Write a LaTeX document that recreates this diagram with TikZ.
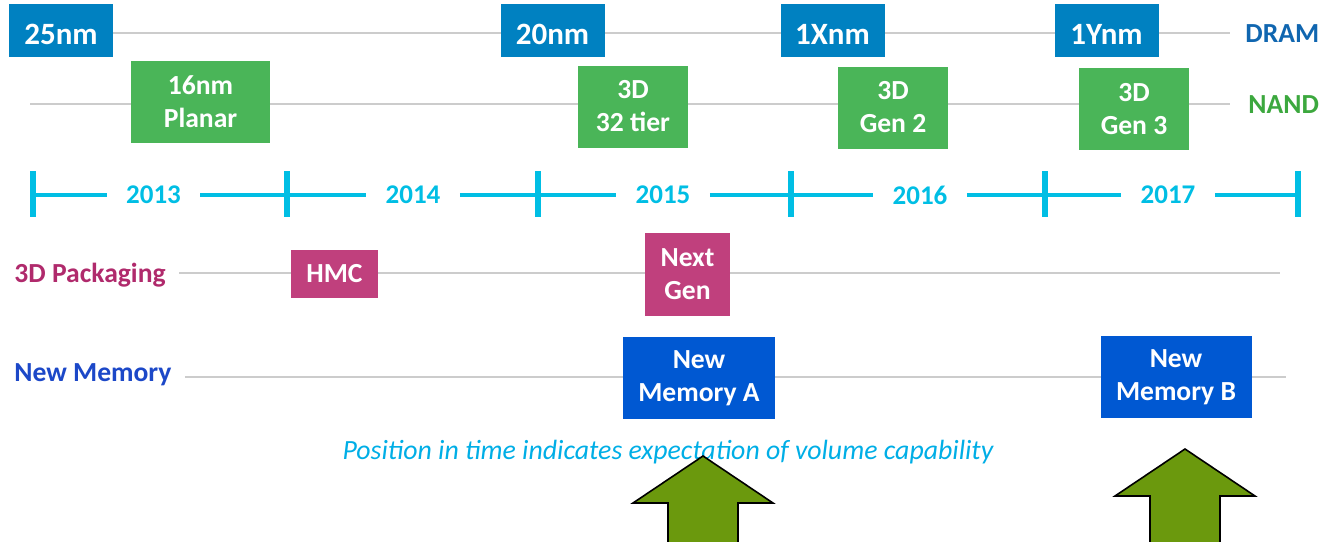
\documentclass[tikz,border=0pt]{standalone}
\usepackage{fontspec}
\setmainfont{Carlito}
\usetikzlibrary{positioning}

\definecolor{dramblue}{RGB}{0,129,193}
\definecolor{dramtext}{RGB}{16,102,176}
\definecolor{nandgreen}{RGB}{74,181,88}
\definecolor{nandtext}{RGB}{60,168,62}
\definecolor{pkgpink}{RGB}{192,64,125}
\definecolor{pkgtext}{RGB}{176,42,108}
\definecolor{memblue}{RGB}{0,88,210}
\definecolor{memtext}{RGB}{28,72,200}
\definecolor{yearcyan}{RGB}{0,190,228}
\definecolor{notecyan}{RGB}{0,174,230}
\definecolor{arrowgreen}{RGB}{107,153,13}
\definecolor{rowgray}{RGB}{204,204,204}

\begin{document}
\begin{tikzpicture}[x=0.5pt, y=-0.5pt]
	\tikzstyle{box} = [text=white, inner sep=0pt, align=center,
		font=\fontsize{13.8}{16.5}\selectfont\bfseries]
	\tikzstyle{dramfmt} = [box, fill=dramblue, minimum width=52pt,
		minimum height=26.5pt, text height=13.6pt, text depth=0pt,
		font=\fontsize{15.5}{18}\selectfont\bfseries]
	\tikzstyle{nandfmt} = [box, fill=nandgreen, minimum width=55pt,
		minimum height=41pt]
	\tikzstyle{pkgfmt} = [box, fill=pkgpink]
	\tikzstyle{memfmt} = [box, fill=memblue, minimum width=75.5pt,
		minimum height=41pt]
	\tikzstyle{rowlabel} = [anchor=west, inner sep=0pt,
		font=\fontsize{13.8}{16.5}\selectfont\bfseries]
	\tikzstyle{rowline} = [rowgray, line width=1pt]
	\tikzstyle{year} = [text=yearcyan, inner xsep=9.5pt, inner ysep=2pt,
		font=\fontsize{13.5}{16}\selectfont\bfseries]
	\tikzstyle{tline} = [yearcyan, line width=2pt]
	\tikzstyle{tick} = [yearcyan, line width=3pt]
	\tikzstyle{bigarrow} = [fill=arrowgreen, draw=black, line width=0.8pt,
		line join=miter]

	\useasboundingbox (0,0) rectangle (1326,541);
	\clip (0,0) rectangle (1326,541);

	% row labels and line ends
	\node[rowlabel, text=dramtext] (dram) at (1245,34) {DRAM};
	\node[rowlabel, text=nandtext] (nand) at (1248,105) {NAND};
	\node[rowlabel, text=pkgtext] (pkg) at (14,275) {3D Packaging};
	\node[rowlabel, text=memtext] (mem) at (14,375) {New Memory};
	\coordinate (dramstart) at (60,33);
	\coordinate (nandstart) at (30,104);
	\coordinate (pkgend) at (1280,273);
	\coordinate (memend) at (1286,377);

	% gray rows, drawn before the boxes so they sit underneath
	\draw[rowline, shorten >=7.5pt] (dramstart) -- (dramstart -| dram.west);
	\draw[rowline, shorten >=9pt] (nandstart) -- (nandstart -| nand.west);
	\draw[rowline, shorten <=6.5pt] (pkg.east |- pkgend) -- (pkgend);
	\draw[rowline, shorten <=6.5pt] (mem.east |- memend) -- (memend);

	% DRAM nodes
	\node[dramfmt] (d1) at (61,30.5) {25nm};
	\node[dramfmt] (d2) at (552.5,30.5) {20nm};
	\node[dramfmt] (d3) at (832.5,30.5) {1Xnm};
	\node[dramfmt] (d4) at (1106.5,30.5) {1Ynm};

	% NAND nodes
	\node[nandfmt, minimum width=69.5pt] (n1) at (200.5,102) {16nm\\Planar};
	\node[nandfmt] (n2) at (633,106.5) {3D\\32 tier};
	\node[nandfmt] (n3) at (893,107.5) {3D\\Gen 2};
	\node[nandfmt] (n4) at (1134,109) {3D\\Gen 3};

	% packaging and memory nodes
	\node[pkgfmt, minimum width=43.5pt, minimum height=24pt] (p1)
		at (334.5,274) {HMC};
	\node[pkgfmt, minimum width=42.5pt, minimum height=41.5pt] (p2)
		at (687.5,274.5) {Next\\Gen};
	\node[memfmt, minimum width=76pt] (m1) at (699,378) {New\\Memory A};
	\node[memfmt] (m2) at (1176,377) {New\\Memory B};

	% time line
	\coordinate (t0) at (33,195);
	\coordinate (t1) at (287,195);
	\coordinate (t2) at (538,195);
	\coordinate (t3) at (791,195);
	\coordinate (t4) at (1045,195);
	\coordinate (t5) at (1298,195);
	\node[year] (y1) at (153.5,195) {2013};
	\node[year] (y2) at (413,195) {2014};
	\node[year] (y3) at (663,195) {2015};
	\node[year] (y4) at (920,195) {2016};
	\node[year] (y5) at (1168,195) {2017};
	\draw[tline] (t0) -- (y1) -- (t1) -- (y2) -- (t2) -- (y3) -- (t3)
		-- (y4) -- (t4) -- (y5) -- (t5);
	\foreach \i in {0,...,5}
		\draw[tick] (t\i) +(0,-24) -- +(0,22);

	\node[text=notecyan, font=\fontsize{13.9}{16}\selectfont\itshape] (note)
		at (668,452) {Position in time indicates expectation of volume capability};

	% arrows under the new memories
	\foreach \x/\y in {703/456, 1185/449}
		\draw[bigarrow] (\x,\y) -- ++(70,47) -- ++(-35,0) -- ++(0,60)
			-- ++(-70,0) -- ++(0,-60) -- ++(-35,0) -- cycle;
\end{tikzpicture}
\end{document}
